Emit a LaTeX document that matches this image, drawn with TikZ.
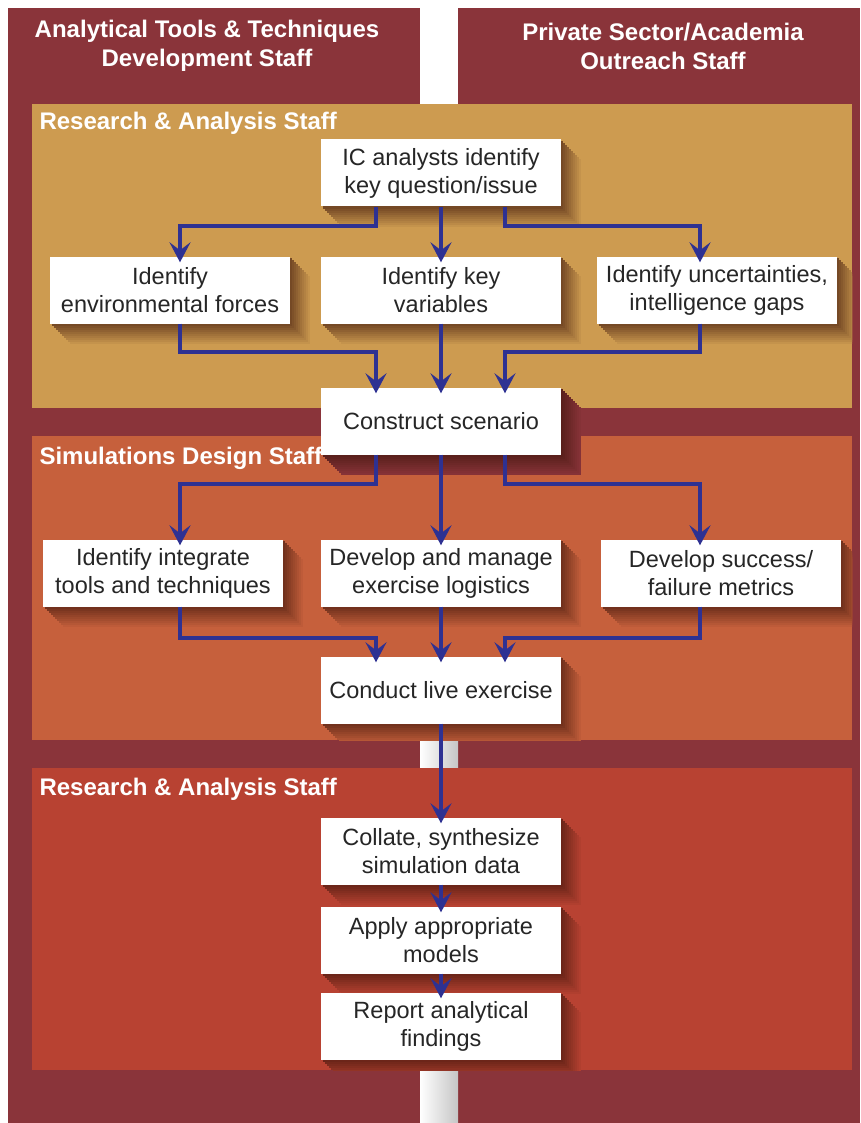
\documentclass[tikz,border=0pt]{standalone}
\usepackage{fontspec}
\setmainfont{Liberation Sans}
\usetikzlibrary{arrows.meta}
\definecolor{maroon}{HTML}{8A343A}
\definecolor{gold}{HTML}{CD9B50}
\definecolor{rust}{HTML}{C6603C}
\definecolor{brick}{HTML}{B84232}
\definecolor{navy}{HTML}{2E3192}
\definecolor{umber}{HTML}{3A1208}
\pgfdeclarelayer{back}
\pgfdeclarelayer{shade}
\pgfsetlayers{back,shade,main}

\begin{document}
\begin{tikzpicture}[x=1pt,y=-1pt,
 box/.style={fill=white, text=black!85, minimum width=240pt, minimum height=67pt, inner sep=0pt, align=center,
  font=\fontsize{23.5}{28}\selectfont},
 flow/.style={draw=navy, line width=4pt, shorten >=-6pt, -{Stealth[length=20pt,width=21pt,inset=8pt]}},
 staff/.style={text=white, font=\bfseries\fontsize{24}{29}\selectfont, align=center}]
%\draw[help lines] (0,0) grid[step=50] (860,1123);
\useasboundingbox (0,0) rectangle (860,1123);

\begin{pgfonlayer}{back}
 \fill[maroon] (8,8) rectangle (420,1123);
 \fill[maroon] (458,8) rectangle (860,1123);
 \shade[left color=white, right color=gray!45] (420,740) rectangle (458,768);
 \shade[left color=white, right color=gray!45] (420,1070) rectangle (458,1123);

 \fill[gold] (32,104) rectangle (852,408);
 \fill[rust] (32,436) rectangle (852,740);
 \fill[brick] (32,768) rectangle (852,1070);
\end{pgfonlayer}

 \node[staff] (atd) at (207,46) {Analytical Tools \& Techniques\\Development Staff};
 \node[staff] (pso) at (663,46) {Private Sector/Academia\\Outreach Staff};
 \node[staff,anchor=west] (ra1) at (36,123) {Research \& Analysis Staff};
 \node[staff,anchor=west] (sds) at (36,458) {Simulations Design Staff};
 \node[staff,anchor=west] (ra2) at (36,789) {Research \& Analysis Staff};

 \node[box] (q) at (441,173) {IC analysts identify\\key question/issue};
 \node[box] (env) at (170,290) {Identify\\environmental forces};
 \node[box] (var) at (441,290) {Identify key\\variables};
 \node[box] (unc) at (717,290) {Identify uncertainties,\\intelligence gaps};
 \node[box] (scn) at (441,421) {Construct scenario};
 \node[box] (tools) at (163,573) {Identify integrate\\tools and techniques};
 \node[box] (logi) at (441,573) {Develop and manage\\exercise logistics};
 \node[box] (mtr) at (721,573) {Develop success/\\failure metrics};
 \node[box] (live) at (441,690) {Conduct live exercise};
 \node[box] (col) at (441,851) {Collate, synthesize\\simulation data};
 \node[box] (mod) at (441,940) {Apply appropriate\\models};
 \node[box] (rep) at (441,1026) {Report analytical\\findings};

% soft shadows under the boxes
\begin{pgfonlayer}{shade}
 \foreach \n/\bg/\ya/\yb in {q/gold/104/408,env/gold/104/408,var/gold/104/408,unc/gold/104/408,
   scn/maroon/104/740,tools/rust/436/740,logi/rust/436/740,mtr/rust/436/740,live/rust/436/740,
   col/brick/768/1070,mod/brick/768/1070,rep/brick/768/1070}{
  \begin{scope}
   \clip (32,\ya) rectangle (852,\yb);
   \foreach \s/\p in {20/6,18/12,16/18,14/24,12/30,10/36,8/42,6/48,4/54,2/60}
    \fill[umber!\p!\bg] ([shift={(\s,\s)}]\n.north west) rectangle ([shift={(\s,\s)}]\n.south east);
  \end{scope}}
\end{pgfonlayer}

 \draw[flow] ([xshift=-65pt]q.south) -- ++(0,19) -| ([xshift=10pt]env.north);
 \draw[flow] (q) -- (var);
 \draw[flow] ([xshift=64pt]q.south) -- ++(0,19) -| ([xshift=-17pt]unc.north);

 \draw[flow] ([xshift=10pt]env.south) -- ++(0,28) -| ([xshift=-65pt]scn.north);
 \draw[flow] (var) -- (scn);
 \draw[flow] ([xshift=-17pt]unc.south) -- ++(0,28) -| ([xshift=64pt]scn.north);

 \draw[flow] ([xshift=-65pt]scn.south) -- ++(0,29) -| ([xshift=17pt]tools.north);
 \draw[flow] (scn) -- (logi);
 \draw[flow] ([xshift=64pt]scn.south) -- ++(0,29) -| ([xshift=-21pt]mtr.north);

 \draw[flow] ([xshift=17pt]tools.south) -- ++(0,31) -| ([xshift=-65pt]live.north);
 \draw[flow] (logi) -- (live);
 \draw[flow] ([xshift=-21pt]mtr.south) -- ++(0,31) -| ([xshift=64pt]live.north);

 \draw[flow] (live) -- (col);
 \draw[flow] (col) -- (mod);
 \draw[flow] (mod) -- (rep);

\end{tikzpicture}
\end{document}
